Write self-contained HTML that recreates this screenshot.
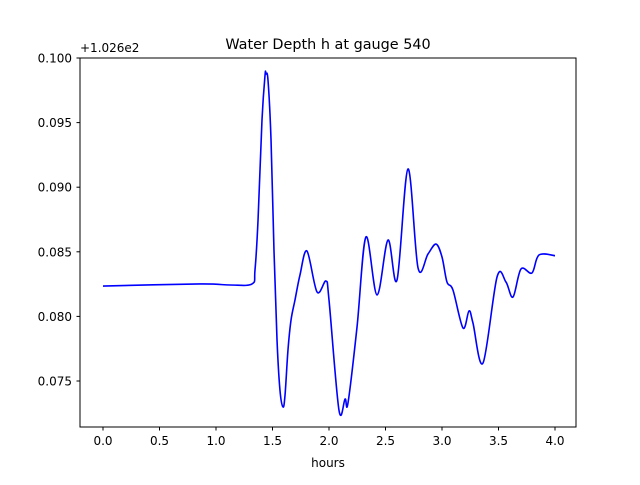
<!DOCTYPE html>
<html><head><meta charset="utf-8"><style>
body{margin:0;background:#fff}
svg text{font-family:"DejaVu Sans","Liberation Sans",sans-serif;fill:#000}
</style></head><body>
<svg id="chart" width="640" height="480" xmlns="http://www.w3.org/2000/svg">
<rect width="640" height="480" fill="#fff"/>
<text x="328" y="49" font-size="14.4" text-anchor="middle">Water Depth h at gauge 540</text>
<text x="80" y="52" font-size="12">+1.026e2</text>
<text x="328" y="467" font-size="12" text-anchor="middle">hours</text>
<g id="xt"></g>
<g id="yt"></g>
<path id="line" fill="none" stroke="#0000ff" stroke-width="1.6"/>
<rect x="80" y="58" width="496" height="369" fill="none" stroke="#000" stroke-width="1"/>
</svg>
<script>
const hours=[0,0.858,1.124,1.319,1.345,1.372,1.407,1.434,1.442,1.460,1.487,1.513,1.540,1.566,1.593,1.611,1.637,1.664,1.699,1.743,1.805,1.894,1.973,2.0,2.088,2.142,2.168,2.248,2.327,2.425,2.522,2.602,2.699,2.788,2.876,2.947,3.0,3.044,3.097,3.186,3.239,3.274,3.363,3.487,3.566,3.628,3.699,3.796,3.858,4.0];
const depth=[0.08235,0.08251,0.08243,0.08251,0.08359,0.08746,0.09520,0.09868,0.09876,0.09830,0.09365,0.08514,0.07817,0.07430,0.07299,0.07392,0.07740,0.07972,0.08127,0.08320,0.08506,0.08189,0.08274,0.08127,0.07276,0.07361,0.07330,0.07918,0.08615,0.08166,0.08591,0.08282,0.09141,0.08375,0.08483,0.08560,0.08460,0.08266,0.08204,0.07910,0.08042,0.07949,0.07639,0.08305,0.08266,0.08150,0.08367,0.08336,0.08475,0.08470];
const xTicks=[0,0.5,1,1.5,2,2.5,3,3.5,4];
const xTickLabels=["0.0","0.5","1.0","1.5","2.0","2.5","3.0","3.5","4.0"];
const yTicks=[0.075,0.080,0.085,0.090,0.095,0.100];
const yTickLabels=["0.075","0.080","0.085","0.090","0.095","0.100"];
const NS="http://www.w3.org/2000/svg";
const X=t=>103+t*113;
const Y=v=>381-(v-0.075)*12920;
const xt=document.getElementById('xt'),yt=document.getElementById('yt');
xTicks.forEach((t,i)=>{
 const l=document.createElementNS(NS,'line');
 
 
 l.setAttribute('x1',X(t));l.setAttribute('x2',X(t));l.setAttribute('y1',427);l.setAttribute('y2',430.5);l.setAttribute('stroke','#000');
 xt.appendChild(l);
 const s=document.createElementNS(NS,'text');
 
 
 s.setAttribute('x',X(t));s.setAttribute('y',445);s.setAttribute('font-size','12');s.setAttribute('text-anchor','middle');
 s.textContent=xTickLabels[i];xt.appendChild(s);
});
yTicks.forEach((v,i)=>{
 const l=document.createElementNS(NS,'line');
 
 
 l.setAttribute('x1',76.5);l.setAttribute('x2',80);l.setAttribute('y1',Y(v));l.setAttribute('y2',Y(v));l.setAttribute('stroke','#000');
 yt.appendChild(l);
 const s=document.createElementNS(NS,'text');
 
 
 s.setAttribute('x',72);s.setAttribute('y',Y(v)+4.5);s.setAttribute('font-size','12');s.setAttribute('text-anchor','end');
 s.textContent=yTickLabels[i];yt.appendChild(s);
});
const P=hours.map((t,i)=>[X(t),Y(depth[i])]);
let d='M'+P[0][0]+','+P[0][1];
for(let i=0;i<P.length-1;i++){
 const p0=P[Math.max(0,i-1)],p1=P[i],p2=P[i+1],p3=P[Math.min(P.length-1,i+2)];
 const c1=[p1[0]+(p2[0]-p0[0])/6,p1[1]+(p2[1]-p0[1])/6];
 const c2=[p2[0]-(p3[0]-p1[0])/6,p2[1]-(p3[1]-p1[1])/6];
 d+=` C${c1[0]},${c1[1]} ${c2[0]},${c2[1]} ${p2[0]},${p2[1]}`;
}
document.getElementById('line').setAttribute('d',d);
</script>
</body></html>
